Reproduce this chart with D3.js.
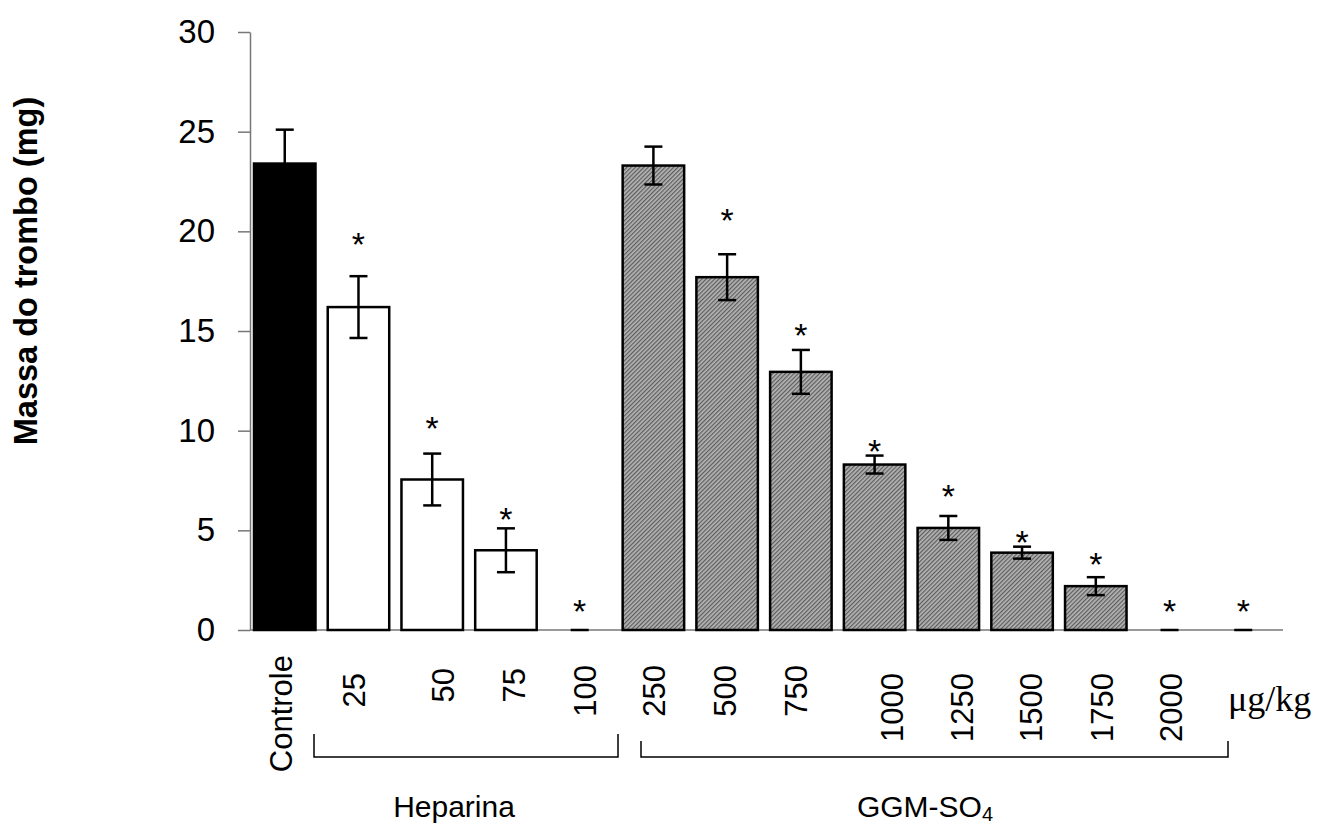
<!DOCTYPE html>
<html>
<head>
<meta charset="utf-8">
<script src="https://cdn.jsdelivr.net/npm/d3@7/dist/d3.min.js"></script>
<style>
  html, body { margin: 0; padding: 0; background: #fff; }
  svg { display: block; }
  text { fill: #000; }
</style>
</head>
<body>
<svg id="chart" width="1320" height="825"></svg>
<script>
// ---- data ----
const categories = ["Controle", "25", "50", "75", "100", "250", "500", "750", "1000", "1250", "1500", "1750", "2000", ""];
const groups = ["controle", "heparina", "heparina", "heparina", "heparina",
                "ggm", "ggm", "ggm", "ggm", "ggm", "ggm", "ggm", "ggm", "ggm"];
const means = [23.4, 16.2, 7.55, 4.0, 0, 23.3, 17.7, 12.95, 8.3, 5.12, 3.88, 2.2, 0, 0];
const errors = [1.7, 1.55, 1.3, 1.1, 0, 0.95, 1.15, 1.1, 0.45, 0.6, 0.3, 0.45, 0, 0];
const significant = [false, true, true, true, true, false, true, true, true, true, true, true, true, true];
const starLevel = [0, 19.8, 10.6, 6.0, 1.4, 0, 21.0, 15.25, 9.45, 7.2, 4.85, 3.75, 1.4, 1.4];
const yTicks = [0, 5, 10, 15, 20, 25, 30];
const yTitle = "Massa do trombo (mg)";
const unitLabel = "\u03bcg/kg";
const bracketGroups = [
  { name: "Heparina", sub: null },
  { name: "GGM-SO", sub: "4" }
];

// ---- layout (not data) ----
const SANS = "'Liberation Sans', Arial, sans-serif";
const SERIF = "'Liberation Serif', 'Times New Roman', serif";
const labelDx = [-4, -5, 11, 8, 5, 0, -2, -5, 17, 13, 9, 6, 1, 0];

const svg = d3.select("#chart");
const y = d3.scaleLinear().domain([0, 30]).range([630, 32]);
const x = d3.scaleBand().domain(categories).range([254, 1274]).paddingInner(0.166).paddingOuter(0);
const axisX0 = 250, axisX1 = 1283;

// hatch pattern
const defs = svg.append("defs");
const pat = defs.append("pattern")
  .attr("id", "hatch").attr("patternUnits", "userSpaceOnUse")
  .attr("width", 3).attr("height", 3)
  .attr("patternTransform", "rotate(45)");
pat.append("rect").attr("width", 3).attr("height", 3).attr("fill", "#b4b4b4");
pat.append("rect").attr("width", 1.2).attr("height", 3).attr("fill", "#5c5c5c");

const fillFor = g => g === "controle" ? "#000" : g === "heparina" ? "#fff" : "url(#hatch)";

// y axis
const yAxis = d3.axisLeft(y).tickValues(yTicks).tickSize(12).tickPadding(23).tickSizeOuter(0);
const gy = svg.append("g").attr("transform", `translate(${axisX0},0)`).call(yAxis);
gy.select(".domain").attr("stroke", "#777").attr("stroke-width", 1.5);
gy.selectAll(".tick line").attr("stroke", "#777").attr("stroke-width", 1.5);
gy.selectAll(".tick text").attr("font-size", 33).style("font-family", SANS).attr("fill", "#000");

// x axis line
svg.append("line")
  .attr("x1", axisX0).attr("x2", axisX1)
  .attr("y1", y(0)).attr("y2", y(0))
  .attr("stroke", "#777").attr("stroke-width", 1.5);

const rows = categories.map((c, i) => ({ c, i, g: groups[i], v: means[i], e: errors[i], s: significant[i], sl: starLevel[i] }));

// bars
svg.append("g").selectAll("rect")
  .data(rows.filter(d => d.v > 0))
  .join("rect")
  .attr("x", d => x(d.c))
  .attr("width", x.bandwidth())
  .attr("y", d => y(d.v))
  .attr("height", d => y(0) - y(d.v))
  .attr("fill", d => fillFor(d.g))
  .attr("stroke", "#000").attr("stroke-width", 2.5);

// error bars
const capW = 18;
const eg = svg.append("g").attr("stroke", "#000").attr("stroke-width", 2.5);
rows.forEach(d => {
  const cx = x(d.c) + x.bandwidth() / 2;
  const top = y(d.v + d.e), bot = y(Math.max(0, d.v - d.e));
  if (d.e > 0) eg.append("line").attr("x1", cx).attr("x2", cx).attr("y1", top).attr("y2", bot);
  eg.append("line").attr("x1", cx - capW / 2).attr("x2", cx + capW / 2).attr("y1", top).attr("y2", top);
  if (d.e > 0) eg.append("line").attr("x1", cx - capW / 2).attr("x2", cx + capW / 2).attr("y1", bot).attr("y2", bot);
});

// stars
svg.append("g").selectAll("text")
  .data(rows.filter(d => d.s))
  .join("text")
  .attr("x", d => x(d.c) + x.bandwidth() / 2)
  .attr("y", d => y(d.sl))
  .attr("dy", "0.62em")
  .attr("text-anchor", "middle")
  .attr("font-size", 34)
  .style("font-family", SANS)
  .text("*");

// category labels (rotated)
svg.append("g").selectAll("text")
  .data(rows.filter(d => d.c !== ""))
  .join("text")
  .attr("transform", d => {
    const cx = x(d.c) + x.bandwidth() / 2 + labelDx[d.i];
    const top = d.c === "Controle" ? 655 : d.c.length >= 4 ? 673 : (d.c === "25" ? 673 : (d.c.length === 2 ? 668 : 665));
    return `translate(${cx},${top}) rotate(-90)`;
  })
  .attr("text-anchor", "end")
  .attr("dy", "0.36em")
  .attr("font-size", 31)
  .style("font-family", SANS)
  .text(d => d.c);

// unit label
svg.append("text")
  .attr("x", 1228).attr("y", 711)
  .style("font-family", SERIF)
  .attr("font-size", 36)
  .text(unitLabel);

// brackets
const bg = svg.append("g").attr("stroke", "#000").attr("stroke-width", 1.5).attr("fill", "none");
const brackets = [
  { x0: 314, x1: 618, yTop: 734, tx: 454 },
  { x0: 641, x1: 1228, yTop: 741, tx: 925 }
];
bracketGroups.forEach((b, k) => {
  const L = brackets[k];
  const yb = 757;
  bg.append("path").attr("d", `M${L.x0},${L.yTop}V${yb}H${L.x1}V${L.yTop}`);
  const t = svg.append("text")
    .attr("x", L.tx)
    .attr("y", 817)
    .attr("text-anchor", "middle")
    .attr("font-size", 30)
    .style("font-family", SANS)
    .text(b.name);
  if (b.sub) t.append("tspan").attr("font-size", 20).attr("dy", 4).text(b.sub);
});

// y title
svg.append("text")
  .attr("transform", "translate(25,271) rotate(-90)")
  .attr("text-anchor", "middle")
  .attr("dy", "0.36em")
  .attr("font-size", 32.5)
  .attr("font-weight", "bold")
  .style("font-family", SANS)
  .text(yTitle);
</script>
</body>
</html>
